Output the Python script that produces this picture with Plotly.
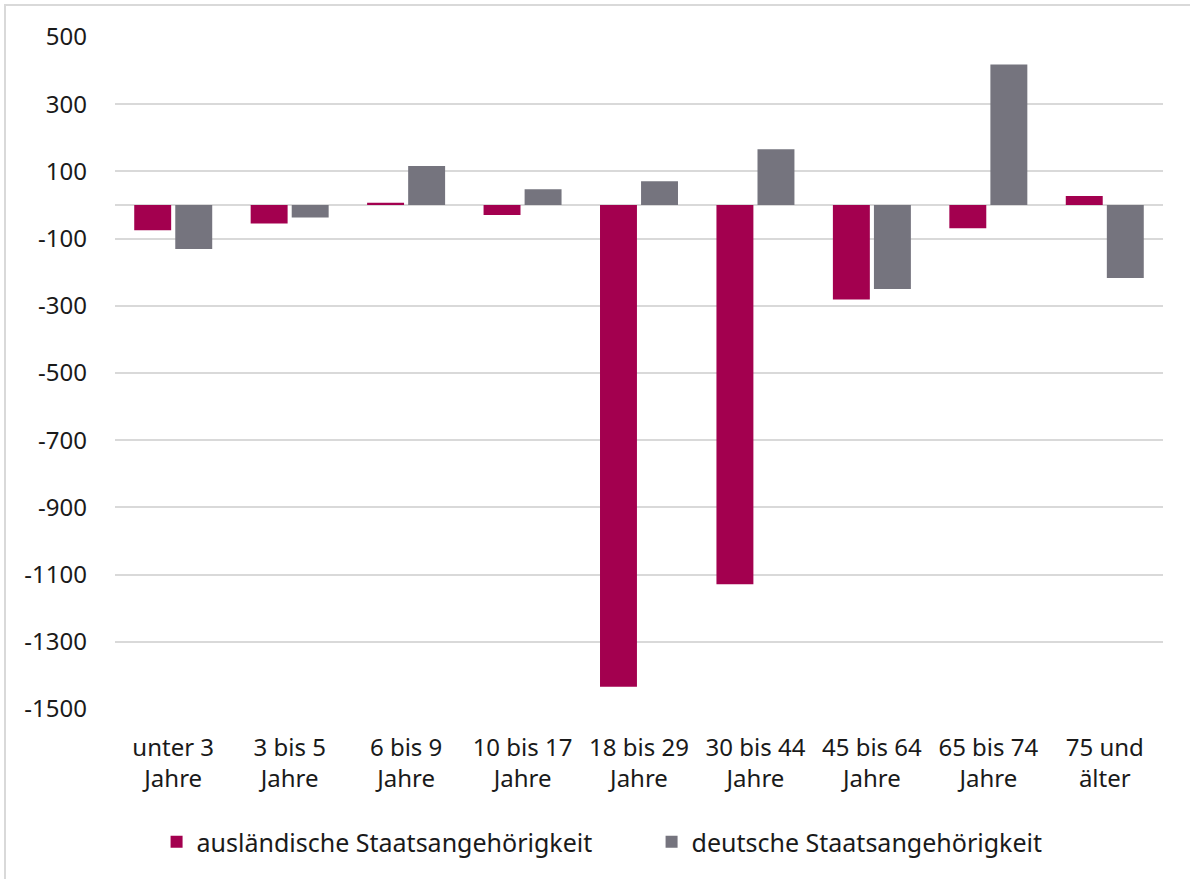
import plotly.graph_objects as go

categories = ["unter 3<br>Jahre", "3 bis 5<br>Jahre", "6 bis 9<br>Jahre", "10 bis 17<br>Jahre",
              "18 bis 29<br>Jahre", "30 bis 44<br>Jahre", "45 bis 64<br>Jahre", "65 bis 74<br>Jahre",
              "75 und<br>älter"]
auslaendisch = [-75, -55, 7, -30, -1434, -1129, -281, -69, 27]
deutsch = [-131, -37, 116, 47, 71, 166, -250, 418, -217]
series_names = ["ausländische Staatsangehörigkeit", "deutsche Staatsangehörigkeit"]
y_ticks = list(range(-1500, 501, 200))

FONT = "Noto Sans"
TXT = "#1a1a1a"
FS = 24

fig = go.Figure()
fig.add_trace(go.Bar(x=categories, y=auslaendisch, name=series_names[0],
                     marker=dict(color="#A3004F", line=dict(width=0))))
fig.add_trace(go.Bar(x=categories, y=deutsch, name=series_names[1],
                     marker=dict(color="#75747E", line=dict(width=0))))

W, H = 1190, 879
ml, mr, mt, mb = 115, 27, 37, 170
pw, ph = W - ml - mr, H - mt - mb

fig.update_layout(
    width=W, height=H,
    margin=dict(l=ml, r=mr, t=mt, b=mb, pad=0, autoexpand=False),
    paper_bgcolor="white", plot_bgcolor="white",
    barmode="group", bargap=0.295, bargroupgap=0.1,
    font=dict(family=FONT, size=FS, color=TXT),
    showlegend=True,
    legend=dict(orientation="h", x=0.512, xanchor="center", y=-0.198, yanchor="middle",
                font=dict(family=FONT, size=25, color=TXT), itemwidth=30,
                entrywidth=450, traceorder="normal"),
    xaxis=dict(showgrid=False, showline=False, ticks="", tickfont=dict(size=FS, color=TXT),
               ticklabelstandoff=22),
    yaxis=dict(range=[-1500, 500], tickvals=y_ticks, ticktext=[str(v) for v in y_ticks],
               showgrid=True, gridcolor="#D9D9D9", gridwidth=1.5,
               zeroline=True, zerolinecolor="#D9D9D9", zerolinewidth=1.5,
               showline=False, ticks="", ticklabelstandoff=27,
               tickfont=dict(size=FS, color=TXT)),
)

# outer chart border
fig.add_shape(type="rect", xref="paper", yref="paper",
              x0=(5 - ml) / pw, x1=(W + 10 - ml) / pw,
              y0=-(H + 10 - mt - ph) / ph, y1=(mt + ph - 5) / ph,
              line=dict(color="#D9D9D9", width=2), fillcolor="rgba(0,0,0,0)", layer="below")

fig.write_html("out.html", config={"displayModeBar": False},
               post_script="document.body.style.margin='0';document.body.style.padding='0';")
